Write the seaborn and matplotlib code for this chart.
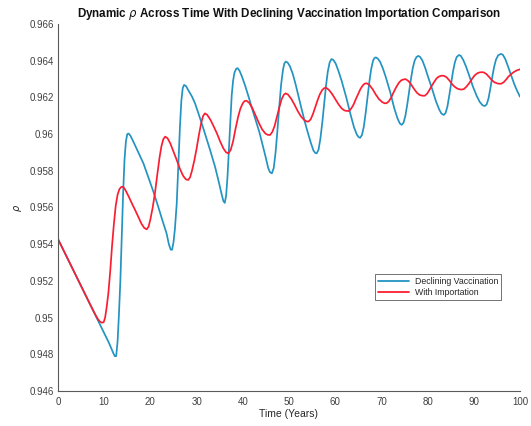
import numpy as np
import pandas as pd
import matplotlib
matplotlib.use("Agg")
import matplotlib.pyplot as plt
import seaborn as sns

# Declining vaccination scenario: time (years) and rho
decl_t = [0, 4, 8, 11, 12.0, 12.3, 12.6, 12.9, 13.2, 13.5, 13.8, 14.1, 14.4, 14.7, 15.0,
          15.3, 15.7, 16.2, 17.4, 18.5, 19.5, 20.6, 21.7, 22.6, 23.5, 24.0, 24.4, 24.7,
          25.0, 25.3, 25.7, 26.0, 26.4, 26.7, 27.0, 27.3, 27.7, 28.3, 29.0, 29.7, 30.7,
          31.8, 32.9, 34.0, 34.8, 35.4, 35.8, 36.1, 36.4, 36.7, 37.0, 37.3, 37.6, 37.9,
          38.2, 38.6, 38.9, 39.3, 39.8, 40.5, 41.3, 42.0, 42.8, 43.6, 44.3, 45.0, 45.5,
          45.9, 46.3, 46.7, 47.1, 47.5, 47.9, 48.3, 48.7, 49.0, 49.3, 49.7, 50.2, 50.8,
          51.5, 52.6, 53.4, 54.0, 54.7, 55.3, 55.7, 56.0, 56.4, 56.8, 57.2, 57.6, 58.0,
          58.4, 58.8, 59.2, 59.6, 60.1, 60.7, 61.4, 62.4, 63.4, 64.1, 64.7, 65.1, 65.4,
          65.8, 66.2, 66.6, 67.0, 67.4, 67.8, 68.2, 68.5, 68.8, 69.2, 69.7, 70.3, 70.9,
          71.9, 72.8, 73.5, 74.0, 74.4, 74.8, 75.2, 75.6, 76.0, 76.4, 76.8, 77.2, 77.6,
          78.0, 78.4, 78.9, 79.5, 80.2, 81.0, 81.8, 82.5, 83.0, 83.5, 83.9, 84.3, 84.7,
          85.1, 85.5, 85.9, 86.3, 86.8, 87.2, 87.7, 88.3, 89.0, 89.8, 90.6, 91.3, 91.9,
          92.4, 92.8, 93.2, 93.6, 94.0, 94.4, 94.8, 95.3, 95.9, 96.3, 96.8, 97.4, 98.1,
          98.8, 99.4, 100]
decl_rho = [0.95428, 0.95223, 0.95018, 0.94864, 0.94805, 0.94790, 0.94790, 0.94870,
            0.95020, 0.95200, 0.95440, 0.95677, 0.95860, 0.95960, 0.96000, 0.96003,
            0.95990, 0.95965, 0.95900, 0.95840, 0.95768, 0.95690, 0.95604, 0.95530,
            0.95459, 0.95400, 0.95370, 0.95370, 0.95410, 0.95480, 0.95620, 0.95800,
            0.96040, 0.96180, 0.96250, 0.96268, 0.96262, 0.96235, 0.96205, 0.96165,
            0.96090, 0.96004, 0.95915, 0.95822, 0.95740, 0.95675, 0.95635, 0.95625,
            0.95665, 0.95770, 0.95920, 0.96080, 0.96210, 0.96290, 0.96335, 0.96357,
            0.96359, 0.96345, 0.96315, 0.96265, 0.96200, 0.96140, 0.96075, 0.96010,
            0.95940, 0.95870, 0.95815, 0.95792, 0.95786, 0.95815, 0.95900, 0.96020,
            0.96150, 0.96270, 0.96350, 0.96385, 0.96395, 0.96390, 0.96370, 0.96330,
            0.96265, 0.96150, 0.96070, 0.96015, 0.95955, 0.95910, 0.95897, 0.95895,
            0.95915, 0.95975, 0.96060, 0.96160, 0.96260, 0.96340, 0.96390, 0.96409,
            0.96404, 0.96385, 0.96345, 0.96290, 0.96200, 0.96100, 0.96035, 0.95997,
            0.95983, 0.95980, 0.95995, 0.96040, 0.96115, 0.96200, 0.96285, 0.96355,
            0.96400, 0.96414, 0.96418, 0.96412, 0.96395, 0.96360, 0.96315, 0.96230,
            0.96140, 0.96085, 0.96058, 0.96050, 0.96062, 0.96100, 0.96160, 0.96230,
            0.96300, 0.96360, 0.96400, 0.96420, 0.96426, 0.96420, 0.96400, 0.96360,
            0.96305, 0.96245, 0.96180, 0.96135, 0.96112, 0.96104, 0.96115, 0.96150,
            0.96210, 0.96275, 0.96340, 0.96390, 0.96420, 0.96431, 0.96426, 0.96405,
            0.96370, 0.96320, 0.96260, 0.96210, 0.96175, 0.96157, 0.96153, 0.96162,
            0.96195, 0.96250, 0.96310, 0.96365, 0.96405, 0.96430, 0.96437, 0.96432,
            0.96410, 0.96370, 0.96320, 0.96270, 0.96235, 0.96204]

# Importation scenario: time (years) and rho
imp_t = [0, 4, 7, 8.0, 8.6, 9.1, 9.5, 9.9, 10.2, 10.5, 10.9, 11.3, 11.7, 12.1, 12.5,
         12.9, 13.3, 13.7, 14.1, 14.6, 15.3, 16.0, 16.7, 17.4, 18.1, 18.7, 19.2, 19.6,
         20.0, 20.5, 21.0, 21.5, 22.0, 22.4, 22.8, 23.2, 23.7, 24.3, 25.0, 25.7, 26.4,
         27.1, 27.7, 28.2, 28.6, 29.0, 29.5, 30.0, 30.5, 31.0, 31.4, 31.8, 32.3, 33.0,
         33.7, 34.4, 35.1, 35.8, 36.4, 36.9, 37.4, 37.9, 38.4, 39.0, 39.5, 40.0, 40.4,
         40.8, 41.4, 42.1, 42.8, 43.5, 44.2, 44.9, 45.4, 45.9, 46.4, 46.9, 47.4, 47.9,
         48.4, 48.9, 49.3, 49.8, 50.5, 51.2, 51.9, 52.6, 53.3, 53.8, 54.2, 54.7, 55.2,
         55.7, 56.2, 56.7, 57.2, 57.6, 58.0, 58.6, 59.3, 60.0, 60.7, 61.4, 62.0, 62.5,
         63.0, 63.5, 64.0, 64.5, 65.0, 65.5, 66.0, 66.4, 66.8, 67.4, 68.1, 68.8, 69.5,
         70.2, 70.7, 71.1, 71.6, 72.1, 72.6, 73.2, 73.8, 74.3, 74.8, 75.3, 75.9, 76.5,
         77.1, 77.7, 78.3, 78.9, 79.4, 79.9, 80.4, 80.9, 81.5, 82.0, 82.5, 83.0, 83.5,
         84.1, 84.7, 85.3, 85.9, 86.5, 87.1, 87.5, 87.9, 88.4, 89.0, 89.6, 90.2, 90.8,
         91.4, 92.1, 92.7, 93.3, 93.9, 94.5, 95.1, 95.6, 96.0, 96.5, 97.0, 97.5, 98.0,
         98.6, 99.3, 100]
imp_rho = [0.95428, 0.95223, 0.95070, 0.95020, 0.94993, 0.94978, 0.94972, 0.94975,
           0.95000, 0.95050, 0.95132, 0.95250, 0.95390, 0.95510, 0.95610, 0.95670,
           0.95700, 0.95712, 0.95713, 0.95695, 0.95660, 0.95622, 0.95586, 0.95548,
           0.95510, 0.95488, 0.95481, 0.95495, 0.95535, 0.95600, 0.95680, 0.95780,
           0.95875, 0.95935, 0.95972, 0.95986, 0.95978, 0.95950, 0.95905, 0.95859,
           0.95810, 0.95772, 0.95753, 0.95750, 0.95765, 0.95800, 0.95855, 0.95920,
           0.95995, 0.96060, 0.96098, 0.96113, 0.96105, 0.96078, 0.96042, 0.96004,
           0.95960, 0.95922, 0.95900, 0.95895, 0.95915, 0.95960, 0.96025, 0.96095,
           0.96140, 0.96168, 0.96180, 0.96182, 0.96170, 0.96140, 0.96100, 0.96060,
           0.96025, 0.96003, 0.95996, 0.95995, 0.96012, 0.96045, 0.96095, 0.96145,
           0.96190, 0.96215, 0.96222, 0.96215, 0.96192, 0.96160, 0.96125, 0.96096,
           0.96077, 0.96069, 0.96068, 0.96080, 0.96110, 0.96148, 0.96185, 0.96218,
           0.96240, 0.96250, 0.96253, 0.96242, 0.96220, 0.96192, 0.96163, 0.96140,
           0.96129, 0.96126, 0.96126, 0.96140, 0.96162, 0.96192, 0.96220, 0.96247,
           0.96266, 0.96275, 0.96277, 0.96268, 0.96245, 0.96215, 0.96190, 0.96174,
           0.96168, 0.96168, 0.96178, 0.96198, 0.96225, 0.96255, 0.96280, 0.96293,
           0.96298, 0.96299, 0.96288, 0.96268, 0.96245, 0.96225, 0.96213, 0.96209,
           0.96209, 0.96220, 0.96240, 0.96263, 0.96287, 0.96305, 0.96314, 0.96318,
           0.96318, 0.96310, 0.96293, 0.96272, 0.96257, 0.96247, 0.96243, 0.96243,
           0.96246, 0.96258, 0.96277, 0.96300, 0.96320, 0.96332, 0.96337, 0.96337,
           0.96328, 0.96312, 0.96294, 0.96282, 0.96276, 0.96274, 0.96275, 0.96283,
           0.96297, 0.96313, 0.96325, 0.96337, 0.96347, 0.96353]

series_names = ["Declining Vaccination", "With Importation"]
series_colors = ["#2393c2", "#fa1e32"]

x_ticks = [0, 10, 20, 30, 40, 50, 60, 70, 80, 90, 100]
y_ticks = [0.946, 0.948, 0.95, 0.952, 0.954, 0.956, 0.958, 0.96, 0.962, 0.964, 0.966]
y_tick_labels = ["0.946", "0.948", "0.95", "0.952", "0.954", "0.956", "0.958",
                 "0.96", "0.962", "0.964", "0.966"]

df = pd.concat([
    pd.DataFrame({"t": decl_t, "rho": decl_rho, "scenario": series_names[0]}),
    pd.DataFrame({"t": imp_t, "rho": imp_rho, "scenario": series_names[1]}),
], ignore_index=True)

sns.set_theme(style="white")
plt.rcParams["font.family"] = ["Liberation Sans", "DejaVu Sans"]

fig = plt.figure(figsize=(5.31, 4.26), dpi=100)
ax = fig.add_axes([0.1092, 0.0822, 0.8700, 0.8615])

sns.lineplot(data=df, x="t", y="rho", hue="scenario", palette=series_colors,
             hue_order=series_names, linewidth=1.25, sort=False, estimator=None,
             ax=ax, legend=False)

ax.set_xlim(0, 100)
ax.set_ylim(0.946, 0.966)
ax.set_xticks(x_ticks)
ax.set_xticklabels([str(v) for v in x_ticks])
ax.set_yticks(y_ticks)
ax.set_yticklabels(y_tick_labels)

spine_col = "#5a5a5a"
for side in ("top", "right"):
    ax.spines[side].set_visible(False)
for side in ("left", "bottom"):
    ax.spines[side].set_color(spine_col)
    ax.spines[side].set_linewidth(0.8)

ax.tick_params(axis="both", direction="in", length=3, width=0.6, color=spine_col,
               labelsize=7, labelcolor="#404040", pad=3)
ax.tick_params(axis="x", pad=4)

ax.set_xlabel("Time (Years)", fontsize=7.5, color="#262626", labelpad=2)
ax.set_ylabel(r"$\rho$", fontsize=7, color="#262626", labelpad=4)
ax.set_title(r"Dynamic $\rho$ Across Time With Declining Vaccination Importation Comparison",
             fontsize=8.4, fontweight="bold", color="#111111", pad=5)

handles = [plt.Line2D([], [], color=c, linewidth=1.3) for c in series_colors]
leg = ax.legend(handles, series_names, loc="upper left", bbox_to_anchor=(0.686, 0.318),
                fontsize=6.3, frameon=True, fancybox=False, handlelength=3.6,
                handletextpad=0.6, borderpad=0.35, labelspacing=0.15,
                borderaxespad=0.0)
leg.get_frame().set_edgecolor("#333333")
leg.get_frame().set_linewidth(0.6)

fig.savefig("out.png", dpi=100)
